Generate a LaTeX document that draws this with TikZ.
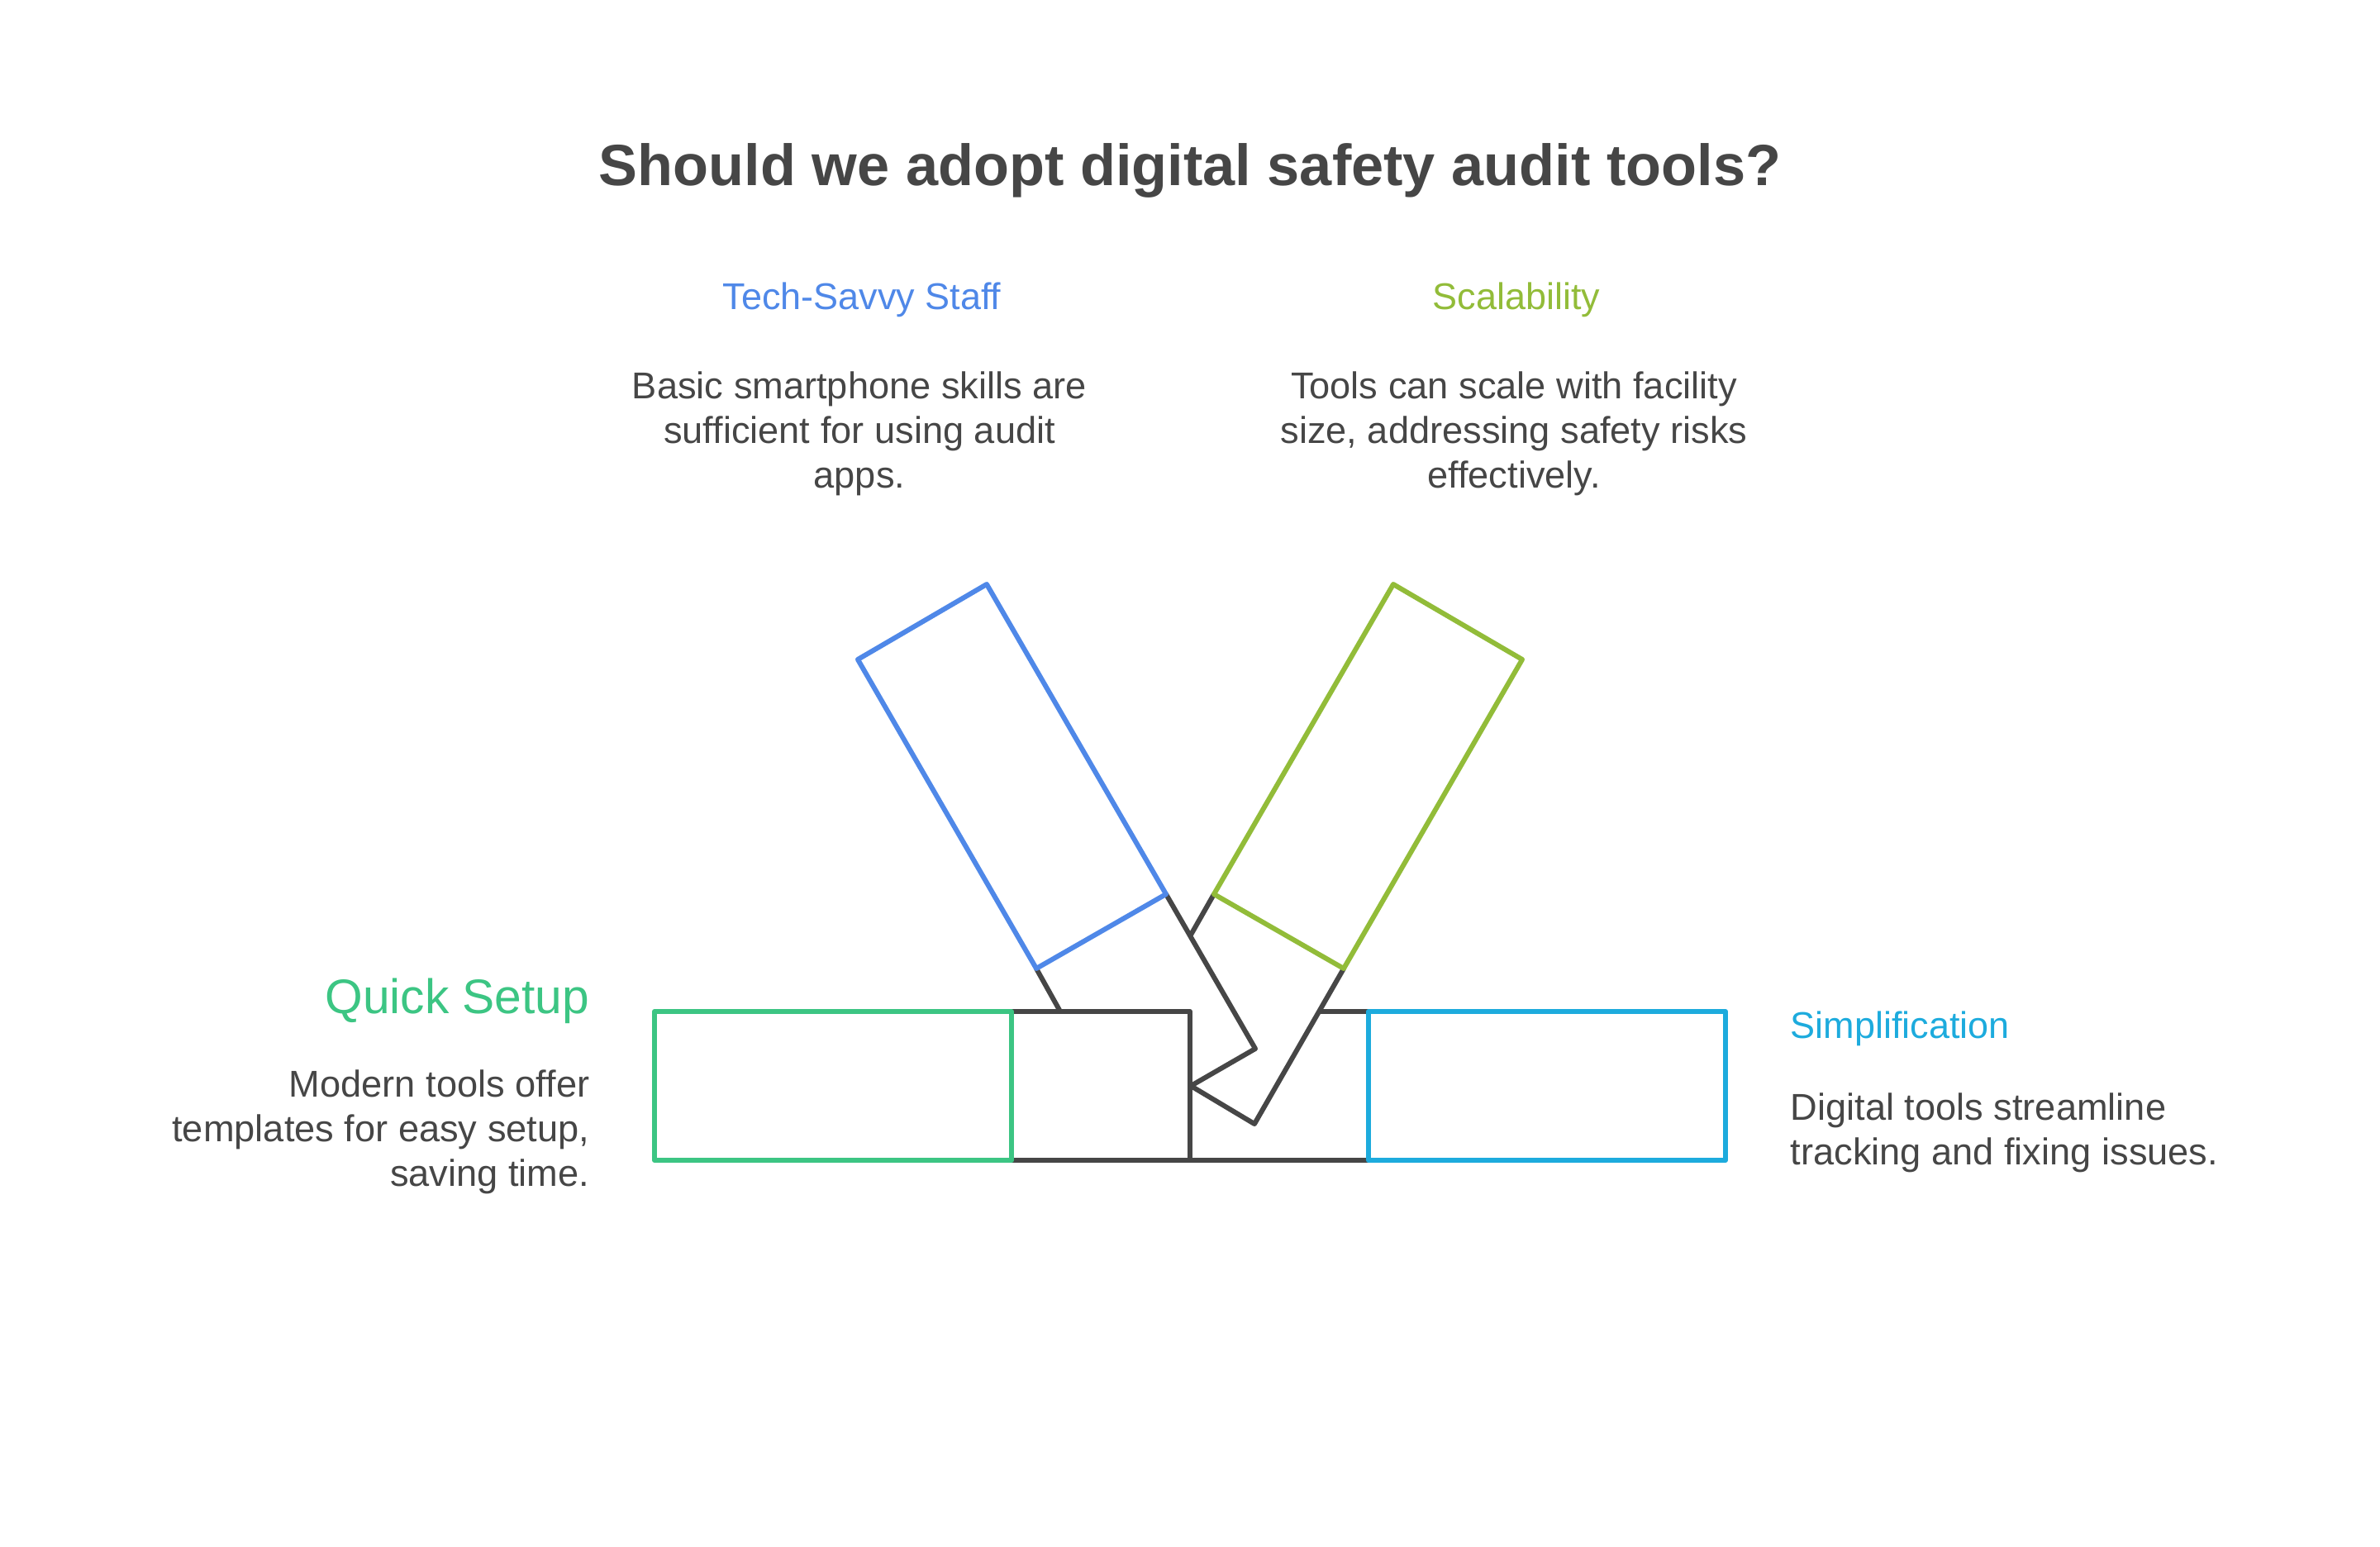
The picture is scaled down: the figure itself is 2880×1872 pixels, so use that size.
\documentclass[tikz,border=0pt]{standalone}
\usepackage{fontspec}
\setmainfont{Liberation Sans}
\usepackage{tikz}
\usetikzlibrary{positioning}
\definecolor{inkgray}{HTML}{464646}
\definecolor{techblue}{HTML}{4F88E8}
\definecolor{scalegreen}{HTML}{92BC39}
\definecolor{setupgreen}{HTML}{3CC583}
\definecolor{simplecyan}{HTML}{1DABDD}

\begin{document}
\begin{tikzpicture}[x=0.01cm,y=-0.01cm,line join=round,
                    outline/.style={line width=1.7pt},
                    titletext/.style={inner sep=0,anchor=base,text=inkgray,font=\fontsize{20pt}{24pt}\selectfont\bfseries},
                    headtext/.style={inner sep=0,font=\fontsize{12.8pt}{15.4pt}\selectfont},
                    bodytext/.style={inner sep=0,text=inkgray,font=\fontsize{12.85pt}{15.37pt}\selectfont}
                ]
                    \useasboundingbox (0,0) rectangle (2880,1872);

                    \coordinate (leftlo) at (792,1404);
                    \coordinate (lefthi) at (1224,1224);
                    \coordinate (leftbo) at (1224,1404);
                    \coordinate (midhi) at (1440,1224);
                    \coordinate (midbo) at (1440,1404);
                    \coordinate (rightlo) at (1656,1404);
                    \coordinate (righthi) at (1656,1224);
                    \coordinate (rightend) at (2088,1224);
                    \coordinate (rightstub) at (1598,1224);

                    \coordinate (tech1) at (1038,798);
                    \coordinate (tech2) at (1194,707);
                    \coordinate (tech3) at (1411,1082);
                    \coordinate (tech4) at (1254,1172);
                    \coordinate (tech5) at (1283,1224);
                    \coordinate (tech6) at (1519,1269);
                    \coordinate (tip) at (1441,1314);

                    \coordinate (scale1) at (1842,798);
                    \coordinate (scale2) at (1686,707);
                    \coordinate (scale3) at (1469,1082);
                    \coordinate (scale4) at (1626,1172);
                    \coordinate (scale5) at (1440,1133);
                    \coordinate (scale6) at (1518,1360);

                    \draw[outline,inkgray] (leftbo) -- (midbo) -- (rightlo);
                    \draw[outline,inkgray] (lefthi) -- (midhi) -- (midbo);
                    \draw[outline,inkgray] (rightstub) -- (righthi);
                    \draw[outline,inkgray] (tech4) -- (tech5);
                    \draw[outline,inkgray] (tech3) -- (tech6) -- (tip) -- (scale6) -- (scale4);
                    \draw[outline,inkgray] (scale3) -- (scale5);

                    \draw[outline,techblue] (tech1) -- (tech2) -- (tech3) -- (tech4) -- cycle;
                    \draw[outline,scalegreen] (scale1) -- (scale2) -- (scale3) -- (scale4) -- cycle;
                    \draw[outline,setupgreen] (leftlo) rectangle (lefthi);
                    \draw[outline,simplecyan] (rightlo) rectangle (rightend);

                    \node[titletext] (title) at (1440,224) {Should we adopt digital safety audit tools?};

                    \node[headtext,anchor=base,text=techblue] (techhead) at (1043,374) {Tech-Savvy Staff};
                    \node[bodytext,align=center,anchor=north] (techbody) at (1040,449) {Basic smartphone skills are\\sufficient for using audit\\apps.};

                    \node[headtext,anchor=base,text=scalegreen] (scalehead) at (1835,374) {Scalability};
                    \node[bodytext,align=center,anchor=north] (scalebody) at (1832,449) {Tools can scale with facility\\size, addressing safety risks\\effectively.};

                    \node[headtext,anchor=base east,text=setupgreen,font=\fontsize{16.7pt}{20pt}\selectfont] (setuphead) at (714,1226) {Quick Setup};
                    \node[bodytext,align=right,anchor=north east] (setupbody) at (714,1294) {Modern tools offer\\templates for easy setup,\\saving time.};

                    \node[headtext,anchor=base west,text=simplecyan] (simplehead) at (2166,1256) {Simplification};
                    \node[bodytext,align=left,anchor=north west] (simplebody) at (2166,1322) {Digital tools streamline\\tracking and fixing issues.};
                \end{tikzpicture}
\end{document}
